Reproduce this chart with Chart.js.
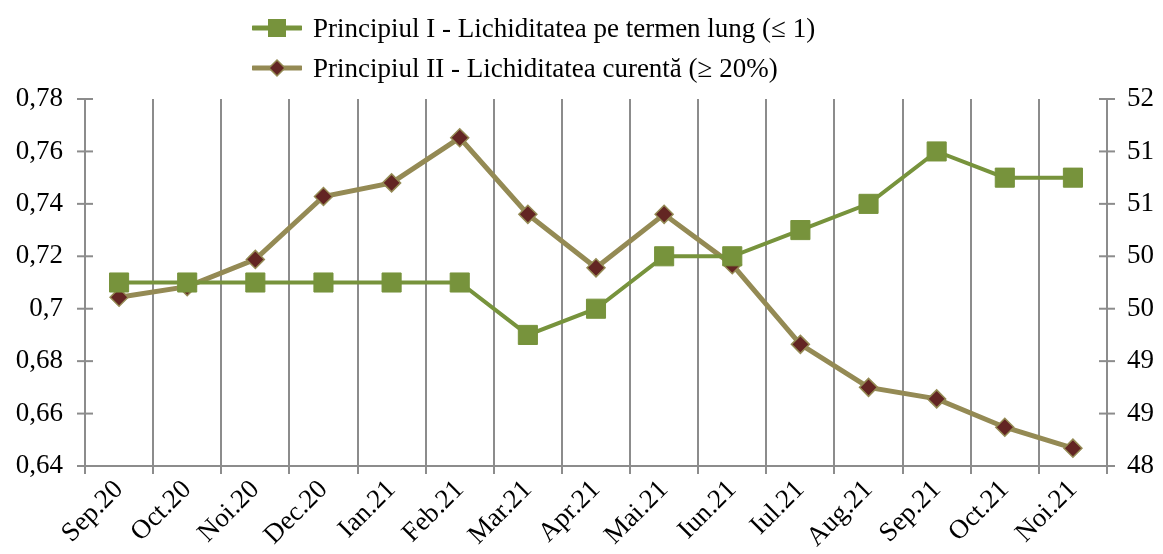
<!DOCTYPE html>
<html>
<head>
<meta charset="utf-8">
<script src="https://cdn.jsdelivr.net/npm/chart.js@4"></script>
<style>
  html, body { margin: 0; padding: 0; background: #fff; }
  #wrap { position: relative; width: 1163px; height: 554px; }
  #legend { position: absolute; left: 252px; top: 8px; font-family: "Liberation Serif", serif; font-size: 27px; color: #000; }
  #legend .item { display: flex; align-items: center; height: 40px; }
  #legend svg { margin-right: 11px; }
</style>
</head>
<body>
<div id="wrap">
  <canvas id="chart" width="1163" height="554"></canvas>
  <div id="legend"></div>
</div>
<script>
var luni = ["Sep.20", "Oct.20", "Noi.20", "Dec.20", "Ian.21", "Feb.21", "Mar.21", "Apr.21", "Mai.21", "Iun.21", "Iul.21", "Aug.21", "Sep.21", "Oct.21", "Noi.21"];
var principiulI = [0.71, 0.71, 0.71, 0.71, 0.71, 0.71, 0.69, 0.70, 0.72, 0.72, 0.73, 0.74, 0.76, 0.75, 0.75];
var principiulII = [49.86, 49.96, 50.22, 50.82, 50.95, 51.38, 50.65, 50.14, 50.65, 50.17, 49.41, 49.00, 48.89, 48.62, 48.42];
var numeI = "Principiul I - Lichiditatea pe termen lung (≤ 1)";
var numeII = "Principiul II - Lichiditatea curentă (≥ 20%)";

var verde = "#77933C";
var oliv = "#948A54";
var visiniu = "#632523";
var gri = "#8C8C8C";
var font = "'Liberation Serif', serif";

// legenda in html, ca sa fie randurile aliniate la stanga
var leg = document.getElementById("legend");
leg.innerHTML =
  '<div class="item"><svg width="50" height="22"><line x1="1" y1="11" x2="49" y2="11" stroke="' + verde + '" stroke-width="5" stroke-linecap="round"/><rect x="16" y="2" width="18" height="18" fill="' + verde + '"/></svg>' + numeI + '</div>' +
  '<div class="item"><svg width="50" height="22"><line x1="1" y1="11" x2="49" y2="11" stroke="' + oliv + '" stroke-width="5" stroke-linecap="round"/><polygon points="25,3 33,11 25,19 17,11" fill="' + visiniu + '" stroke="' + oliv + '" stroke-width="1.5"/></svg>' + numeII + '</div>';

// liniute de tick care traverseaza axele verticale
var tickCruce = {
  id: "tickCruce",
  afterDraw: function(chart) {
    var ctx = chart.ctx;
    ["y", "y1"].forEach(function(id) {
      var s = chart.scales[id];
      var x = id === "y" ? s.right : s.left;
      ctx.save();
      ctx.strokeStyle = gri;
      ctx.lineWidth = 2;
      s.ticks.forEach(function(t, i) {
        var py = s.getPixelForTick(i);
        ctx.beginPath();
        ctx.moveTo(x - 8, py);
        ctx.lineTo(x + 8, py);
        ctx.stroke();
      });
      ctx.restore();
    });
  }
};

var ctx = document.getElementById("chart");
var grafic = new Chart(ctx, {
  type: "line",
  data: {
    labels: luni,
    datasets: [{
      label: numeI,
      data: principiulI,
      yAxisID: "y",
      borderColor: verde,
      backgroundColor: verde,
      borderWidth: 4,
      pointStyle: "rect",
      pointRadius: 13.5,
      pointBorderWidth: 1,
      pointBorderColor: verde,
      pointBackgroundColor: verde,
      tension: 0
    }, {
      label: numeII,
      data: principiulII,
      yAxisID: "y1",
      borderColor: oliv,
      backgroundColor: visiniu,
      borderWidth: 5,
      pointStyle: "rectRot",
      pointRadius: 9,
      pointBorderWidth: 1.5,
      pointBorderColor: oliv,
      pointBackgroundColor: visiniu,
      tension: 0
    }]
  },
  options: {
    responsive: false,
    animation: false,
    layout: { padding: { top: 99, left: 0, right: 0, bottom: 0 } },
    plugins: {
      legend: { display: false },
      tooltip: { enabled: false }
    },
    scales: {
      x: {
        offset: true,
        grid: { offset: true, color: gri, lineWidth: 2, drawTicks: true, tickLength: 8 },
        border: { color: gri, width: 2 },
        ticks: { color: "#000", font: { family: font, size: 27 }, maxRotation: 45, minRotation: 45, padding: 0 },
        afterFit: function(s) { s.height = 88; }
      },
      y: {
        position: "left",
        min: 0.64,
        max: 0.78,
        grid: { drawOnChartArea: false, drawTicks: false },
        border: { color: gri, width: 2 },
        ticks: {
          stepSize: 0.02,
          color: "#000",
          padding: 22,
          font: { family: font, size: 27 },
          callback: function(v) { return String(Math.round(v * 100) / 100).replace(".", ","); }
        },
        afterFit: function(s) { s.width = 85; }
      },
      y1: {
        position: "right",
        min: 48.25,
        max: 51.75,
        grid: { drawOnChartArea: false, drawTicks: false },
        border: { color: gri, width: 2 },
        ticks: {
          stepSize: 0.5,
          color: "#000",
          padding: 20,
          font: { family: font, size: 27 },
          callback: function(v) { return String(Math.round(v)); }
        },
        afterFit: function(s) { s.width = 56; }
      }
    }
  },
  plugins: [tickCruce]
});
</script>
</body>
</html>
